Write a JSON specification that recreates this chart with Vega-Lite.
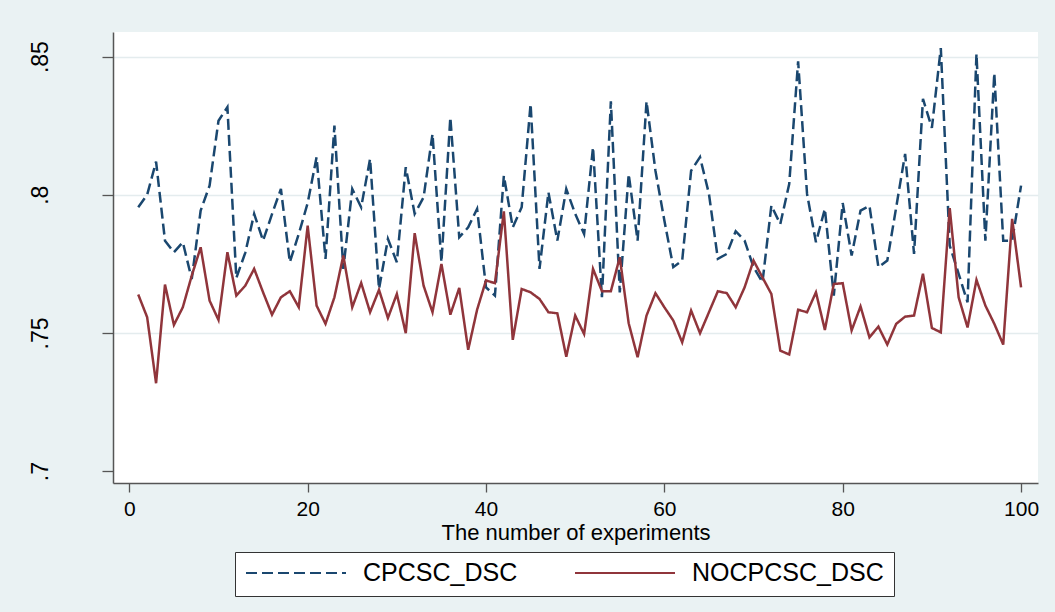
{
  "$schema": "https://vega.github.io/schema/vega-lite/v6.json",
  "width": 925,
  "height": 451,
  "autosize": {"type": "none"},
  "padding": {"left": 113, "top": 32, "right": 17, "bottom": 129},
  "background": "#EAF2F3",
  "config": {
    "view": {"fill": "white", "stroke": null},
    "axis": {
      "labelFont": "Liberation Sans",
      "titleFont": "Liberation Sans",
      "labelFontSize": 22,
      "titleFontSize": 22,
      "labelColor": "black",
      "titleColor": "black",
      "titleFontWeight": "normal",
      "domainColor": "#555555",
      "tickColor": "#555555",
      "domainWidth": 1.5,
      "tickWidth": 1.3
    }
  },
  "data": {
    "values": [
      {"n": 1, "CPCSC_DSC": 0.7955, "NOCPCSC_DSC": 0.7639},
      {"n": 2, "CPCSC_DSC": 0.8000, "NOCPCSC_DSC": 0.7557},
      {"n": 3, "CPCSC_DSC": 0.8120, "NOCPCSC_DSC": 0.7318},
      {"n": 4, "CPCSC_DSC": 0.7834, "NOCPCSC_DSC": 0.7675},
      {"n": 5, "CPCSC_DSC": 0.7792, "NOCPCSC_DSC": 0.7529},
      {"n": 6, "CPCSC_DSC": 0.7828, "NOCPCSC_DSC": 0.7593},
      {"n": 7, "CPCSC_DSC": 0.7695, "NOCPCSC_DSC": 0.7707},
      {"n": 8, "CPCSC_DSC": 0.7943, "NOCPCSC_DSC": 0.7810},
      {"n": 9, "CPCSC_DSC": 0.8033, "NOCPCSC_DSC": 0.7617},
      {"n": 10, "CPCSC_DSC": 0.8268, "NOCPCSC_DSC": 0.7547},
      {"n": 11, "CPCSC_DSC": 0.8317, "NOCPCSC_DSC": 0.7792},
      {"n": 12, "CPCSC_DSC": 0.7699, "NOCPCSC_DSC": 0.7635},
      {"n": 13, "CPCSC_DSC": 0.7790, "NOCPCSC_DSC": 0.7671},
      {"n": 14, "CPCSC_DSC": 0.7931, "NOCPCSC_DSC": 0.7732},
      {"n": 15, "CPCSC_DSC": 0.7834, "NOCPCSC_DSC": 0.7647},
      {"n": 16, "CPCSC_DSC": 0.7930, "NOCPCSC_DSC": 0.7566},
      {"n": 17, "CPCSC_DSC": 0.8021, "NOCPCSC_DSC": 0.7629},
      {"n": 18, "CPCSC_DSC": 0.7756, "NOCPCSC_DSC": 0.7651},
      {"n": 19, "CPCSC_DSC": 0.7858, "NOCPCSC_DSC": 0.7593},
      {"n": 20, "CPCSC_DSC": 0.7970, "NOCPCSC_DSC": 0.7888},
      {"n": 21, "CPCSC_DSC": 0.8136, "NOCPCSC_DSC": 0.7599},
      {"n": 22, "CPCSC_DSC": 0.7768, "NOCPCSC_DSC": 0.7533},
      {"n": 23, "CPCSC_DSC": 0.8250, "NOCPCSC_DSC": 0.7629},
      {"n": 24, "CPCSC_DSC": 0.7732, "NOCPCSC_DSC": 0.7780},
      {"n": 25, "CPCSC_DSC": 0.8021, "NOCPCSC_DSC": 0.7593},
      {"n": 26, "CPCSC_DSC": 0.7955, "NOCPCSC_DSC": 0.7681},
      {"n": 27, "CPCSC_DSC": 0.8130, "NOCPCSC_DSC": 0.7575},
      {"n": 28, "CPCSC_DSC": 0.7659, "NOCPCSC_DSC": 0.7656},
      {"n": 29, "CPCSC_DSC": 0.7840, "NOCPCSC_DSC": 0.7554},
      {"n": 30, "CPCSC_DSC": 0.7756, "NOCPCSC_DSC": 0.7641},
      {"n": 31, "CPCSC_DSC": 0.8100, "NOCPCSC_DSC": 0.7499},
      {"n": 32, "CPCSC_DSC": 0.7931, "NOCPCSC_DSC": 0.7861},
      {"n": 33, "CPCSC_DSC": 0.7991, "NOCPCSC_DSC": 0.7671},
      {"n": 34, "CPCSC_DSC": 0.8220, "NOCPCSC_DSC": 0.7575},
      {"n": 35, "CPCSC_DSC": 0.7756, "NOCPCSC_DSC": 0.7750},
      {"n": 36, "CPCSC_DSC": 0.8280, "NOCPCSC_DSC": 0.7566},
      {"n": 37, "CPCSC_DSC": 0.7846, "NOCPCSC_DSC": 0.7663},
      {"n": 38, "CPCSC_DSC": 0.7882, "NOCPCSC_DSC": 0.7439},
      {"n": 39, "CPCSC_DSC": 0.7949, "NOCPCSC_DSC": 0.7584},
      {"n": 40, "CPCSC_DSC": 0.7665, "NOCPCSC_DSC": 0.7690},
      {"n": 41, "CPCSC_DSC": 0.7635, "NOCPCSC_DSC": 0.7680},
      {"n": 42, "CPCSC_DSC": 0.8069, "NOCPCSC_DSC": 0.7940},
      {"n": 43, "CPCSC_DSC": 0.7882, "NOCPCSC_DSC": 0.7475},
      {"n": 44, "CPCSC_DSC": 0.7955, "NOCPCSC_DSC": 0.7659},
      {"n": 45, "CPCSC_DSC": 0.8329, "NOCPCSC_DSC": 0.7647},
      {"n": 46, "CPCSC_DSC": 0.7732, "NOCPCSC_DSC": 0.7623},
      {"n": 47, "CPCSC_DSC": 0.8009, "NOCPCSC_DSC": 0.7575},
      {"n": 48, "CPCSC_DSC": 0.7834, "NOCPCSC_DSC": 0.7571},
      {"n": 49, "CPCSC_DSC": 0.8021, "NOCPCSC_DSC": 0.7414},
      {"n": 50, "CPCSC_DSC": 0.7931, "NOCPCSC_DSC": 0.7563},
      {"n": 51, "CPCSC_DSC": 0.7858, "NOCPCSC_DSC": 0.7496},
      {"n": 52, "CPCSC_DSC": 0.8172, "NOCPCSC_DSC": 0.7732},
      {"n": 53, "CPCSC_DSC": 0.7629, "NOCPCSC_DSC": 0.7651},
      {"n": 54, "CPCSC_DSC": 0.8338, "NOCPCSC_DSC": 0.7651},
      {"n": 55, "CPCSC_DSC": 0.7647, "NOCPCSC_DSC": 0.7774},
      {"n": 56, "CPCSC_DSC": 0.8075, "NOCPCSC_DSC": 0.7535},
      {"n": 57, "CPCSC_DSC": 0.7834, "NOCPCSC_DSC": 0.7412},
      {"n": 58, "CPCSC_DSC": 0.8338, "NOCPCSC_DSC": 0.7563},
      {"n": 59, "CPCSC_DSC": 0.8087, "NOCPCSC_DSC": 0.7644},
      {"n": 60, "CPCSC_DSC": 0.7907, "NOCPCSC_DSC": 0.7593},
      {"n": 61, "CPCSC_DSC": 0.7738, "NOCPCSC_DSC": 0.7545},
      {"n": 62, "CPCSC_DSC": 0.7762, "NOCPCSC_DSC": 0.7466},
      {"n": 63, "CPCSC_DSC": 0.8087, "NOCPCSC_DSC": 0.7581},
      {"n": 64, "CPCSC_DSC": 0.8136, "NOCPCSC_DSC": 0.7499},
      {"n": 65, "CPCSC_DSC": 0.8003, "NOCPCSC_DSC": 0.7575},
      {"n": 66, "CPCSC_DSC": 0.7768, "NOCPCSC_DSC": 0.7651},
      {"n": 67, "CPCSC_DSC": 0.7786, "NOCPCSC_DSC": 0.7644},
      {"n": 68, "CPCSC_DSC": 0.7868, "NOCPCSC_DSC": 0.7593},
      {"n": 69, "CPCSC_DSC": 0.7834, "NOCPCSC_DSC": 0.7665},
      {"n": 70, "CPCSC_DSC": 0.7738, "NOCPCSC_DSC": 0.7762},
      {"n": 71, "CPCSC_DSC": 0.7683, "NOCPCSC_DSC": 0.7701},
      {"n": 72, "CPCSC_DSC": 0.7961, "NOCPCSC_DSC": 0.7641},
      {"n": 73, "CPCSC_DSC": 0.7894, "NOCPCSC_DSC": 0.7436},
      {"n": 74, "CPCSC_DSC": 0.8039, "NOCPCSC_DSC": 0.7422},
      {"n": 75, "CPCSC_DSC": 0.8483, "NOCPCSC_DSC": 0.7584},
      {"n": 76, "CPCSC_DSC": 0.8003, "NOCPCSC_DSC": 0.7575},
      {"n": 77, "CPCSC_DSC": 0.7828, "NOCPCSC_DSC": 0.7647},
      {"n": 78, "CPCSC_DSC": 0.7949, "NOCPCSC_DSC": 0.7511},
      {"n": 79, "CPCSC_DSC": 0.7635, "NOCPCSC_DSC": 0.7677},
      {"n": 80, "CPCSC_DSC": 0.7970, "NOCPCSC_DSC": 0.7680},
      {"n": 81, "CPCSC_DSC": 0.7780, "NOCPCSC_DSC": 0.7509},
      {"n": 82, "CPCSC_DSC": 0.7943, "NOCPCSC_DSC": 0.7596},
      {"n": 83, "CPCSC_DSC": 0.7960, "NOCPCSC_DSC": 0.7484},
      {"n": 84, "CPCSC_DSC": 0.7738, "NOCPCSC_DSC": 0.7523},
      {"n": 85, "CPCSC_DSC": 0.7762, "NOCPCSC_DSC": 0.7458},
      {"n": 86, "CPCSC_DSC": 0.7955, "NOCPCSC_DSC": 0.7533},
      {"n": 87, "CPCSC_DSC": 0.8148, "NOCPCSC_DSC": 0.7559},
      {"n": 88, "CPCSC_DSC": 0.7786, "NOCPCSC_DSC": 0.7563},
      {"n": 89, "CPCSC_DSC": 0.8347, "NOCPCSC_DSC": 0.7714},
      {"n": 90, "CPCSC_DSC": 0.8242, "NOCPCSC_DSC": 0.7518},
      {"n": 91, "CPCSC_DSC": 0.8531, "NOCPCSC_DSC": 0.7502},
      {"n": 92, "CPCSC_DSC": 0.7816, "NOCPCSC_DSC": 0.7952},
      {"n": 93, "CPCSC_DSC": 0.7714, "NOCPCSC_DSC": 0.7629},
      {"n": 94, "CPCSC_DSC": 0.7611, "NOCPCSC_DSC": 0.7520},
      {"n": 95, "CPCSC_DSC": 0.8510, "NOCPCSC_DSC": 0.7692},
      {"n": 96, "CPCSC_DSC": 0.7834, "NOCPCSC_DSC": 0.7599},
      {"n": 97, "CPCSC_DSC": 0.8440, "NOCPCSC_DSC": 0.7533},
      {"n": 98, "CPCSC_DSC": 0.7834, "NOCPCSC_DSC": 0.7458},
      {"n": 99, "CPCSC_DSC": 0.7834, "NOCPCSC_DSC": 0.7913},
      {"n": 100, "CPCSC_DSC": 0.8033, "NOCPCSC_DSC": 0.7665}
    ]
  },
  "transform": [
    {"fold": ["CPCSC_DSC", "NOCPCSC_DSC"], "as": ["series", "value"]}
  ],
  "mark": {"type": "line", "strokeWidth": 2.5, "strokeJoin": "miter", "clip": true},
  "encoding": {
    "x": {
      "field": "n",
      "type": "quantitative",
      "scale": {"domain": [-1.83, 101.9], "nice": false, "zero": false},
      "axis": {
        "values": [0, 20, 40, 60, 80, 100],
        "grid": false,
        "tickSize": 9,
        "labelFontSize": 21,
        "labelPadding": 6,
        "labelFlush": false,
        "title": "The number of experiments",
        "titlePadding": 3
      }
    },
    "y": {
      "field": "value",
      "type": "quantitative",
      "scale": {"domain": [0.6957, 0.8589], "nice": false, "zero": false},
      "axis": {
        "values": [0.7, 0.75, 0.8, 0.85],
        "labelExpr": "slice(format(datum.value, '.2~f'), 1)",
        "labelAngle": 270,
        "labelAlign": "center",
        "labelBaseline": "alphabetic",
        "labelFontSize": 23,
        "labelPadding": 55,
        "labelFlush": false,
        "tickSize": 11,
        "title": null,
        "grid": true,
        "gridColor": "#E4ECEE",
        "gridWidth": 1.6,
        "gridOpacity": {"condition": {"test": "datum.value < 0.72", "value": 0}, "value": 1}
      }
    },
    "color": {
      "field": "series",
      "type": "nominal",
      "scale": {"domain": ["CPCSC_DSC", "NOCPCSC_DSC"], "range": ["#1A476F", "#90353B"]},
      "legend": {
        "orient": "none",
        "legendX": 122,
        "legendY": 520,
        "direction": "horizontal",
        "title": null,
        "symbolType": "stroke",
        "symbolSize": 10000,
        "symbolStrokeWidth": 2,
        "clipHeight": 22,
        "labelFont": "Liberation Sans",
        "labelFontSize": 25,
        "labelColor": "black",
        "labelOffset": 16,
        "labelLimit": 400,
        "columnPadding": 56,
        "padding": 10,
        "strokeColor": "#333333",
        "fillColor": "white"
      }
    },
    "strokeDash": {
      "field": "series",
      "type": "nominal",
      "scale": {"domain": ["CPCSC_DSC", "NOCPCSC_DSC"], "range": [[11, 5], [1, 0]]},
      "legend": {
        "orient": "none",
        "legendX": 122,
        "legendY": 520,
        "direction": "horizontal",
        "title": null,
        "symbolType": "stroke",
        "symbolSize": 10000,
        "symbolStrokeWidth": 2,
        "clipHeight": 22,
        "labelFont": "Liberation Sans",
        "labelFontSize": 25,
        "labelColor": "black",
        "labelOffset": 16,
        "labelLimit": 400,
        "columnPadding": 56,
        "padding": 10,
        "strokeColor": "#333333",
        "fillColor": "white"
      }
    }
  }
}
